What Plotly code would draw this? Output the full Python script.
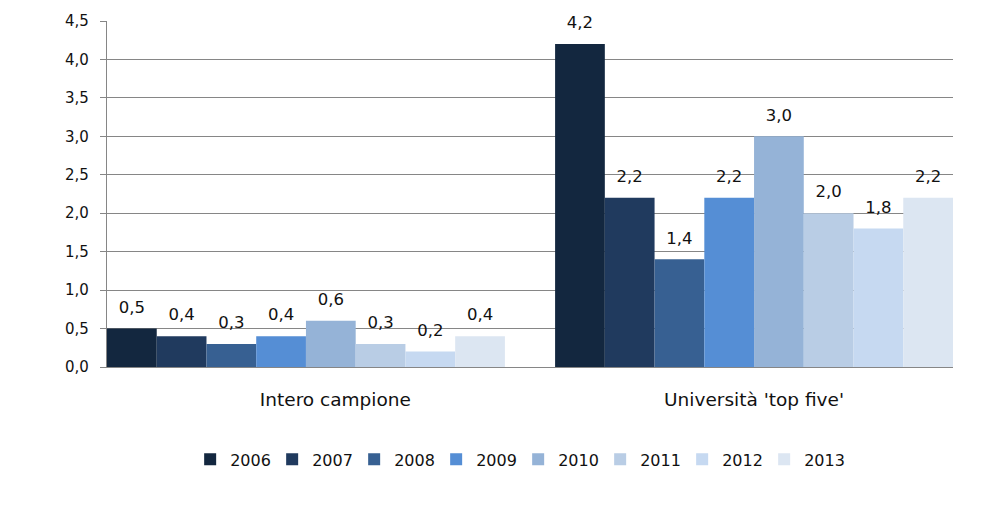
import plotly.graph_objects as go

categories = ["Intero campione", "Università 'top five'"]
years = ["2006", "2007", "2008", "2009", "2010", "2011", "2012", "2013"]
values_2006 = [0.5, 4.2]
values_2007 = [0.4, 2.2]
values_2008 = [0.3, 1.4]
values_2009 = [0.4, 2.2]
values_2010 = [0.6, 3.0]
values_2011 = [0.3, 2.0]
values_2012 = [0.2, 1.8]
values_2013 = [0.4, 2.2]
series = [values_2006, values_2007, values_2008, values_2009,
          values_2010, values_2011, values_2012, values_2013]
colors = ["#13273F", "#203A5E", "#376092", "#558ED5",
          "#95B3D7", "#B9CDE5", "#C6D9F1", "#DCE6F2"]
y_ticks = [0, 0.5, 1.0, 1.5, 2.0, 2.5, 3.0, 3.5, 4.0, 4.5]
# first category label sits slightly right of its bar group in the original
tick_labels = ["\u00a0" * 10 + categories[0], categories[1]]

FONT = "DejaVu Sans"
TXT = "#111111"
GAP = 0.112
fig = go.Figure()
for yr, vals, col in zip(years, series, colors):
    fig.add_trace(go.Bar(
        name=yr, x=categories, y=vals, offsetgroup=yr, legendgroup=yr,
        marker=dict(color=col, line=dict(width=0)),
    ))
for yr, vals in zip(years, series):
    fig.add_trace(go.Scatter(
        x=categories, y=vals, offsetgroup=yr, legendgroup=yr, showlegend=False,
        mode="markers+text", marker=dict(size=17, opacity=0),
        texttemplate="%{y:.1f}", textposition="top center", cliponaxis=False,
        textfont=dict(family=FONT, size=16.5, color=TXT), hoverinfo="skip",
    ))

fig.update_layout(
    width=986, height=505,
    margin=dict(l=107, r=33, t=19, b=138),
    paper_bgcolor="white", plot_bgcolor="white",
    barmode="group", bargap=GAP, bargroupgap=0,
    scattermode="group", scattergap=GAP,
    separators=",.",
    font=dict(family=FONT, size=16, color=TXT),
    legend=dict(orientation="h", x=0.486, xanchor="center", y=-0.267, yanchor="middle",
                font=dict(family=FONT, size=16, color=TXT),
                itemwidth=30, tracegroupgap=0,
                entrywidth=37, entrywidthmode="pixels"),
    showlegend=True,
)
fig.update_xaxes(
    type="category", range=[-0.444, 1.444],
    tickvals=categories, ticktext=tick_labels,
    showline=True, linecolor="#868686", linewidth=1.2,
    ticks="", ticklabelstandoff=16, showgrid=False,
    tickfont=dict(family=FONT, size=18.5, color=TXT),
)
fig.update_yaxes(
    range=[0, 4.5], tickvals=y_ticks, tickformat=".1f",
    showgrid=True, gridcolor="#868686", gridwidth=1.2,
    showline=True, linecolor="#868686", linewidth=1.2,
    ticks="outside", ticklen=6, tickcolor="#868686", tickwidth=1.2,
    ticklabelstandoff=8, zeroline=False,
    tickfont=dict(family=FONT, size=15, color=TXT),
)
fig.write_html("out.html")
